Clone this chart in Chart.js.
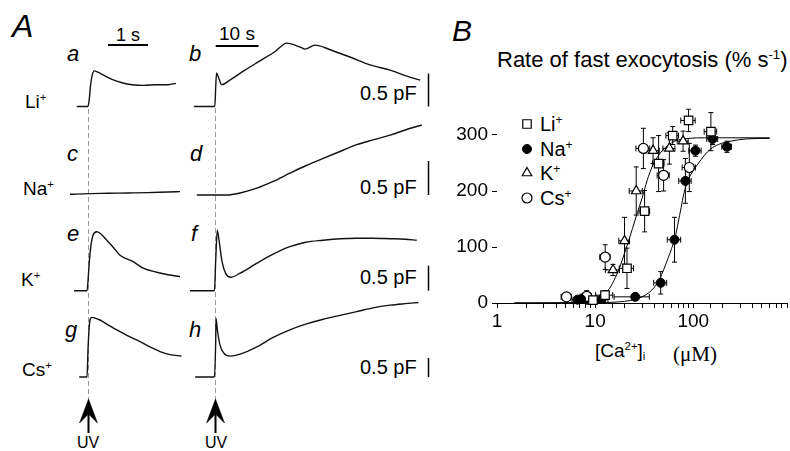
<!DOCTYPE html>
<html>
<head>
<meta charset="utf-8">
<title>Rate of fast exocytosis</title>
<script src="https://cdn.jsdelivr.net/npm/chart.js"></script>
<style>
  body { margin: 0; width: 790px; height: 451px; background: #fff; position: relative; overflow: hidden;
         font-family: "Liberation Sans", Arial, sans-serif; color: #000; }
  .t { position: absolute; white-space: nowrap; line-height: 1; color: #000; }
  .t sup { font-size: 0.6em; vertical-align: 0.6em; line-height: 0; }
  .t sub { font-size: 0.6em; vertical-align: -0.3em; line-height: 0; color: #000; }
  .it { font-style: italic; }
  canvas, svg { position: absolute; left: 0; top: 0; }
</style>
</head>
<body>
<svg width="790" height="451">
  <g stroke="#999" stroke-width="1" stroke-dasharray="5 3">
    <line x1="88.5" y1="109" x2="88.5" y2="400" />
    <line x1="215.5" y1="108" x2="215.5" y2="400" />
  </g>
  <g fill="#000" stroke="#000">
    <polygon points="88.5,399 79.5,423 88.5,414 97.5,423" stroke-width="0.5" />
    <line x1="88.5" y1="414" x2="88.5" y2="433" stroke-width="2" />
    <polygon points="215.5,399 206.5,423 215.5,414 224.5,423" stroke-width="0.5" />
    <line x1="215.5" y1="414" x2="215.5" y2="433" stroke-width="2" />
  </g>
</svg>

<div class="t it" style="left:12px;top:10px;font-size:32px">A</div>
<div class="t it" style="left:452px;top:16px;font-size:30px">B</div>
<div class="t" style="left:116px;top:26px;font-size:18px">1 s</div>
<div class="t" style="left:219px;top:24px;font-size:19px">10 s</div>

<div class="t it" style="left:67px;top:43px;font-size:22px">a</div>
<div class="t it" style="left:189px;top:43px;font-size:22px">b</div>
<div class="t it" style="left:67px;top:143px;font-size:22px">c</div>
<div class="t it" style="left:190px;top:143px;font-size:22px">d</div>
<div class="t it" style="left:67px;top:223px;font-size:22px">e</div>
<div class="t it" style="left:191px;top:223px;font-size:22px">f</div>
<div class="t it" style="left:65px;top:319px;font-size:22px">g</div>
<div class="t it" style="left:189px;top:319px;font-size:22px">h</div>

<div class="t" style="left:25px;top:92px;font-size:19px">Li<sup>+</sup></div>
<div class="t" style="left:23px;top:179px;font-size:19px">Na<sup>+</sup></div>
<div class="t" style="left:21px;top:270px;font-size:19px">K<sup>+</sup></div>
<div class="t" style="left:22px;top:360px;font-size:19px">Cs<sup>+</sup></div>

<div class="t" style="left:360px;top:83px;font-size:20px">0.5 pF</div>
<div class="t" style="left:360px;top:177px;font-size:20px">0.5 pF</div>
<div class="t" style="left:360px;top:267px;font-size:20px">0.5 pF</div>
<div class="t" style="left:360px;top:357px;font-size:20px">0.5 pF</div>

<div class="t" style="left:77px;top:435px;font-size:16px">UV</div>
<div class="t" style="left:205px;top:435px;font-size:16px">UV</div>

<div class="t" style="left:497px;top:49px;font-size:22px">Rate of fast exocytosis (% s<sup>-1</sup>)</div>
<div class="t" style="left:540px;top:114px;font-size:20px">Li<sup>+</sup></div>
<div class="t" style="left:540px;top:139px;font-size:20px">Na<sup>+</sup></div>
<div class="t" style="left:540px;top:163px;font-size:20px">K<sup>+</sup></div>
<div class="t" style="left:540px;top:188px;font-size:20px">Cs<sup>+</sup></div>
<div class="t" style="left:595px;top:341px;font-size:19px">[Ca<sup>2+</sup>]<sub>i</sub></div>
<div class="t" style="left:673px;top:344px;font-size:21px;font-family:'Liberation Serif','Times New Roman',serif">(&mu;M)</div>

<script>
// ---- panel A: capacitance traces, time (s) after the UV flash vs. change in Cm (pF)
const traceA_t  = [-0.28, 0, 0.03, 0.06, 0.1, 0.16, 0.25, 0.4, 0.6, 0.85, 1.1, 1.4, 1.7, 2.0, 2.2];
const traceA_pF = [0, 0, 0.1, 0.3, 0.46, 0.54, 0.52, 0.47, 0.41, 0.36, 0.33, 0.32, 0.33, 0.33, 0.35];
const traceB_t  = [-5.1, -0.2, 0, 0.2, 0.6, 1.4, 3.3, 6.8, 10.3, 13.8, 16.6, 19.7, 20.8, 23.2, 26.7, 31.3, 36, 40.7, 44.6, 47.7];
const traceB_pF = [0, 0, 0.3, 0.51, 0.45, 0.33, 0.4, 0.55, 0.69, 0.83, 0.96, 0.9, 0.87, 0.93, 0.86, 0.75, 0.63, 0.55, 0.46, 0.4];
const traceC_t  = [-0.45, 0, 0.5, 1.0, 1.5, 2.0, 2.3];
const traceC_pF = [0.01, 0.02, 0.025, 0.03, 0.035, 0.045, 0.05];
const traceD_t  = [-4.4, -0.2, 2.6, 5.7, 9.6, 13.4, 17.3, 21, 25.1, 29, 32.9, 36.7, 40.7, 44.4, 48.1];
const traceD_pF = [0, 0, 0, 0.03, 0.1, 0.2, 0.32, 0.43, 0.54, 0.64, 0.74, 0.81, 0.88, 0.96, 1.03];
const traceE_t  = [-0.35, -0.025, 0.01, 0.03, 0.075, 0.125, 0.22, 0.3, 0.47, 0.63, 0.8, 1.13, 1.38, 1.72, 2.0, 2.3];
const traceE_pF = [0, 0, 0.31, 0.55, 0.91, 1.11, 1.18, 1.15, 1.01, 0.87, 0.71, 0.58, 0.45, 0.37, 0.32, 0.28];
const traceF_t  = [-6, -0.3, 0, 0.37, 0.77, 1.5, 2.4, 3.5, 5.7, 9.6, 13.4, 17.3, 21, 25, 29, 32.9, 36.7, 40.7, 44.2, 46.9];
const traceF_pF = [0, 0, 0.61, 1.21, 1.01, 0.57, 0.33, 0.27, 0.35, 0.55, 0.73, 0.88, 0.97, 1.01, 1.04, 1.05, 1.05, 1.04, 1.03, 1.01];
const traceG_t  = [-0.22, -0.025, 0, 0.025, 0.05, 0.09, 0.175, 0.3, 0.5, 0.72, 1.0, 1.3, 1.55, 1.8, 2.05, 2.34];
const traceG_pF = [0, 0, 0.71, 1.24, 1.5, 1.57, 1.55, 1.5, 1.37, 1.24, 1.08, 0.93, 0.79, 0.67, 0.59, 0.55];
const traceH_t  = [-4.8, -0.3, 0, 0.07, 0.4, 1.0, 1.9, 3.3, 5.7, 9.6, 13.4, 17.3, 21, 25.1, 29, 32.9, 36.7, 40.7, 44.2, 47.3];
const traceH_pF = [0, 0, 0.96, 1.54, 1.23, 0.84, 0.63, 0.55, 0.6, 0.79, 1.04, 1.24, 1.39, 1.52, 1.62, 1.72, 1.82, 1.89, 1.93, 1.96];

// ---- panel B: [Ca2+]i (uM) vs rate of fast exocytosis (% s-1), +/- errors
const liCa    = [9.5, 12.6, 21.1, 31.9, 44.3, 61.6, 89.5, 151];
const liRate  = [5, 14, 62, 164, 249, 299, 326, 306];
const liCaErr = [1.2, 2.5, 3.5, 4, 6, 9, 15, 22];
const liRateErr = [6, 8, 36, 37, 50, 16, 20, 34];

const naCa    = [6.6, 7.2, 11.7, 25.6, 46.5, 64.3, 83, 105, 157, 220];
const naRate  = [6, 7, 7, 11, 36, 113, 218, 272, 293, 279];
const naCaErr = [0.8, 0.8, 1.8, 10, 7, 10, 12, 15, 20, 25];
const naRateErr = [4, 4, 5, 5, 20, 40, 40, 10, 10, 10];

const kCa     = [9.2, 15.2, 19.9, 26.2, 38.9, 57, 78.6];
const kRate   = [3, 59, 111, 200, 272, 276, 289];
const kCaErr  = [1.2, 2.5, 2.5, 4, 6, 8, 10];
const kRateErr = [4, 10, 42, 43, 23, 28, 18];

const csCa    = [5.1, 8.2, 12.65, 31, 49.8, 91];
const csRate  = [11, 12, 82, 276, 228, 242];
const csCaErr = [0.6, 1, 1.5, 5, 7, 14];
const csRateErr = [6, 10, 22, 36, 28, 43];

// fitted curves
const fitLeftCa   = [1.5, 5, 8, 10, 12, 14, 16, 18, 20, 22, 24, 27, 30, 34, 38, 44, 50, 60, 70, 90, 130, 200, 600];
const fitLeftRate = [0, 0.5, 2, 5, 14, 26, 45, 66, 90, 112, 133, 162, 187, 220, 243, 263, 275, 286, 291, 294, 295, 295, 295];
const fitNaCa     = [1.5, 10, 20, 25, 30, 35, 40, 45, 50, 55, 60, 65, 70, 75, 80, 90, 100, 110, 130, 150, 180, 240, 350, 600];
const fitNaRate   = [0, 0.5, 3, 6, 11, 18, 28, 42, 60, 79, 97, 116, 143, 170, 195, 222, 237, 247, 264, 275, 283, 289, 293, 294];

const xTickLabels = [1, 10, 100];
const yTickValues = [0, 100, 200, 300];

const pts = (xs, ys) => xs.map((x, i) => ({ x: x, y: ys[i] }));

function addCanvas(left, top, w, h) {
  const c = document.createElement('canvas');
  c.width = w; c.height = h;
  c.style.left = left + 'px'; c.style.top = top + 'px';
  document.body.appendChild(c);
  return c;
}

// 1 s / 10 s and 0.5 pF calibration bars, drawn through each trace's own scales
const scaleBars = {
  id: 'scaleBars',
  afterDatasetsDraw(chart, args, opts) {
    const ctx = chart.ctx, xs = chart.scales.x, ys = chart.scales.y;
    ctx.save();
    ctx.strokeStyle = '#000';
    if (opts.time) {
      ctx.lineWidth = 2;
      ctx.beginPath();
      ctx.moveTo(xs.getPixelForValue(opts.time[0]), opts.time[2]);
      ctx.lineTo(xs.getPixelForValue(opts.time[1]), opts.time[2]);
      ctx.stroke();
    }
    if (opts.amp) {
      ctx.lineWidth = 1.5;
      const x = Math.round(xs.getPixelForValue(opts.amp[0])) + 0.5;
      ctx.beginPath();
      ctx.moveTo(x, ys.getPixelForValue(opts.amp[1]));
      ctx.lineTo(x, ys.getPixelForValue(opts.amp[2]));
      ctx.stroke();
    }
    ctx.restore();
  }
};

const col1 = { left: 60, width: 130, tMin: -0.7, tMax: 2.55 };
const col2 = { left: 190, width: 240, tMin: -6, tMax: 50 };
const row1 = { top: 20, height: 95, base: 106.5, gain: 66 };
const row2 = { top: 115, height: 95, base: 195, gain: 68 };
const row3 = { top: 210, height: 90, base: 290.7, gain: 50 };
const row4 = { top: 295, height: 95, base: 377, gain: 38 };

function traceChart(col, row, t, pF, bars) {
  const cv = addCanvas(col.left, row.top, col.width, row.height);
  const yMax = (row.base - row.top) / row.gain;
  const yMin = -(row.top + row.height - row.base) / row.gain;
  return new Chart(cv, {
    type: 'line',
    data: { datasets: [{ data: pts(t, pF), borderColor: '#111', borderWidth: 1.4, pointRadius: 0,
                         cubicInterpolationMode: 'monotone', fill: false }] },
    options: {
      responsive: false, animation: false, events: [],
      layout: { padding: 0, autoPadding: false },
      plugins: { legend: { display: false }, tooltip: { enabled: false }, scaleBars: bars || {} },
      scales: {
        x: { type: 'linear', display: false, min: col.tMin, max: col.tMax },
        y: { type: 'linear', display: false, min: yMin, max: yMax }
      }
    },
    plugins: [scaleBars]
  });
}

traceChart(col1, row1, traceA_t, traceA_pF, { time: [0.5, 1.5, 25] });
traceChart(col2, row1, traceB_t, traceB_pF, { time: [0, 10, 26], amp: [49.5, 0, 0.5] });
traceChart(col1, row2, traceC_t, traceC_pF);
traceChart(col2, row2, traceD_t, traceD_pF, { amp: [49.5, 0, 0.5] });
traceChart(col1, row3, traceE_t, traceE_pF);
traceChart(col2, row3, traceF_t, traceF_pF, { amp: [49.5, 0, 0.5] });
traceChart(col1, row4, traceG_t, traceG_pF);
traceChart(col2, row4, traceH_t, traceH_pF, { amp: [49.5, 0, 0.5] });

// ---- panel B
function marker(ctx, style, r, x, y, fill) {
  ctx.beginPath();
  if (style === 'rect') {
    const s = r * Math.SQRT1_2;
    ctx.rect(x - s, y - s, 2 * s, 2 * s);
  } else if (style === 'triangle') {
    ctx.moveTo(x, y - r);
    ctx.lineTo(x + r * 0.866, y + r * 0.5);
    ctx.lineTo(x - r * 0.866, y + r * 0.5);
    ctx.closePath();
  } else {
    ctx.arc(x, y, r, 0, Math.PI * 2);
  }
  ctx.fillStyle = fill;
  ctx.fill();
  ctx.stroke();
}

const errorBars = {
  id: 'errorBars',
  beforeDatasetsDraw(chart) {
    const { ctx, scales: { x, y } } = chart;
    ctx.save();
    ctx.strokeStyle = '#000';
    ctx.lineWidth = 1;
    chart.data.datasets.forEach(ds => {
      if (!ds.errX) return;
      ds.data.forEach((p, i) => {
        const cx = x.getPixelForValue(p.x), cy = y.getPixelForValue(p.y);
        const top = y.getPixelForValue(p.y + ds.errY[i]);
        const bot = y.getPixelForValue(Math.max(p.y - ds.errY[i], 0));
        const lft = x.getPixelForValue(p.x - ds.errX[i]);
        const rgt = x.getPixelForValue(p.x + ds.errX[i]);
        ctx.beginPath();
        ctx.moveTo(cx, top); ctx.lineTo(cx, bot);
        ctx.moveTo(cx - 2.5, top); ctx.lineTo(cx + 2.5, top);
        ctx.moveTo(cx - 2.5, bot); ctx.lineTo(cx + 2.5, bot);
        ctx.moveTo(lft, cy); ctx.lineTo(rgt, cy);
        ctx.moveTo(lft, cy - 3); ctx.lineTo(lft, cy + 3);
        ctx.moveTo(rgt, cy - 3); ctx.lineTo(rgt, cy + 3);
        ctx.stroke();
      });
    });
    ctx.restore();
  }
};

const legendMarks = {
  id: 'legendMarks',
  afterDraw(chart, args, opts) {
    const ctx = chart.ctx;
    ctx.save();
    ctx.strokeStyle = '#000';
    chart.data.datasets.forEach((ds, i) => {
      if (!ds.errX) return;
      ctx.lineWidth = ds.borderWidth;
      marker(ctx, ds.pointStyle, ds.pointRadius, opts.x, opts.y[i], ds.backgroundColor);
    });
    ctx.restore();
  }
};

const tickFont = { family: "'Liberation Sans', Arial, sans-serif", size: 19 };
const tickGrid = { display: true, drawOnChartArea: false, drawTicks: true, tickLength: 5, color: '#000', lineWidth: 1 };

new Chart(addCanvas(440, 100, 350, 260), {
  type: 'scatter',
  data: {
    datasets: [
      { label: 'Li+', data: pts(liCa, liRate), errX: liCaErr, errY: liRateErr, pointStyle: 'rect', pointRadius: 6,
        backgroundColor: '#fff', borderColor: '#000', borderWidth: 1.2, order: 1 },
      { label: 'Na+', data: pts(naCa, naRate), errX: naCaErr, errY: naRateErr, pointStyle: 'circle', pointRadius: 4.5,
        backgroundColor: '#000', borderColor: '#000', borderWidth: 1, order: 1 },
      { label: 'K+', data: pts(kCa, kRate), errX: kCaErr, errY: kRateErr, pointStyle: 'triangle', pointRadius: 5.5,
        backgroundColor: '#fff', borderColor: '#000', borderWidth: 1.2, order: 1 },
      { label: 'Cs+', data: pts(csCa, csRate), errX: csCaErr, errY: csRateErr, pointStyle: 'circle', pointRadius: 5,
        backgroundColor: '#fff', borderColor: '#000', borderWidth: 1.2, order: 1 },
      { label: 'fit Li/K/Cs', data: pts(fitLeftCa, fitLeftRate), showLine: true, pointRadius: 0, borderColor: '#000',
        borderWidth: 1, cubicInterpolationMode: 'monotone', order: 5 },
      { label: 'fit Na', data: pts(fitNaCa, fitNaRate), showLine: true, pointRadius: 0, borderColor: '#000',
        borderWidth: 1, cubicInterpolationMode: 'monotone', order: 5 }
    ]
  },
  options: {
    responsive: false, animation: false, events: [],
    clip: false,
    layout: { padding: { top: 6, right: 3, left: 0, bottom: 0 }, autoPadding: false },
    plugins: { legend: { display: false }, tooltip: { enabled: false },
               legendMarks: { x: 87, y: [24, 49, 73, 98] } },
    scales: {
      x: {
        type: 'logarithmic', min: 1, max: 900,
        afterFit(s) { s.height = 57; },
        border: { display: true, color: '#000', width: 1 },
        grid: tickGrid,
        ticks: { autoSkip: false, maxRotation: 0, minRotation: 0, padding: 2, color: '#000', font: tickFont,
                 callback: v => xTickLabels.includes(v) ? String(v) : '' }
      },
      y: {
        type: 'linear', min: 0, max: 335,
        afterFit(s) { s.width = 57; },
        afterBuildTicks(s) { s.ticks = yTickValues.map(v => ({ value: v })); },
        border: { display: false },
        grid: tickGrid,
        ticks: { padding: 4, color: '#000', font: tickFont }
      }
    }
  },
  plugins: [errorBars, legendMarks]
});
</script>
</body>
</html>
